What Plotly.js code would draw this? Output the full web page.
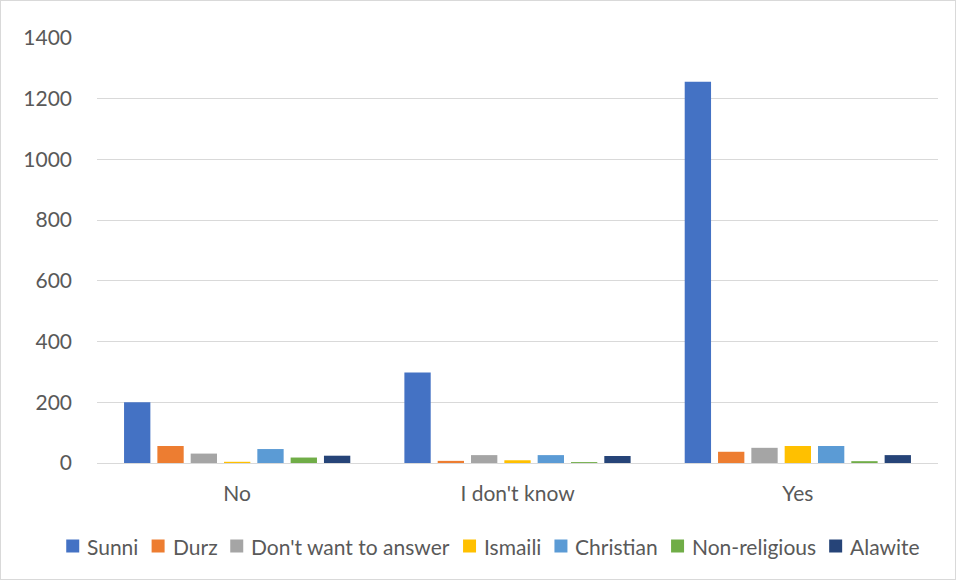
<!DOCTYPE html>
<html>
<head>
<meta charset="utf-8">
<script src="https://cdn.plot.ly/plotly-3.0.1.min.js"></script>
<style>
  html, body { margin: 0; padding: 0; background: #ffffff; }
  #frame { width: 954px; height: 578px; border: 1px solid #d9d9d9; }
  #chart { width: 954px; height: 578px; }
</style>
</head>
<body>
<div id="frame"><div id="chart"></div></div>
<script>
// Survey answers grouped by response, one series per religious group
const answers = ["No", "I don't know", "Yes"];
const sunni = [200, 298, 1256];
const durz = [56, 7, 37];
const dontWantToAnswer = [31, 26, 50];
const ismaili = [4, 9, 56];
const christian = [46, 26, 56];
const nonReligious = [18, 3, 6];
const alawite = [24, 23, 26];

const seriesNames = ["Sunni", "Durz", "Don't want to answer", "Ismaili", "Christian", "Non-religious", "Alawite"];
const seriesValues = [sunni, durz, dontWantToAnswer, ismaili, christian, nonReligious, alawite];
const seriesColors = ["#4472c4", "#ed7d31", "#a5a5a5", "#ffc000", "#5b9bd5", "#70ad47", "#264478"];

const yTicks = [0, 200, 400, 600, 800, 1000, 1200, 1400];

const fontFamily = "Lato, 'Open Sans', 'Liberation Sans', sans-serif";
const textColor = "#595959";

// Figure geometry (pixels)
const W = 954, H = 578;
const M = { l: 96, r: 17, t: 37, b: 116 };
const plotW = W - M.l - M.r;
const plotH = H - M.t - M.b;

// Single-row legend under the axis: square swatch, label, repeated
const legendFontSize = 21;
const swatch = 13, swatchGap = 6, itemGap = 15;
const legendCenterX = 491, legendCenterY = 545;

function buildLegend() {
  const ctx = document.createElement("canvas").getContext("2d");
  ctx.font = legendFontSize + "px Lato";
  const widths = seriesNames.map(n => ctx.measureText(n).width);
  const total = widths.reduce((s, w) => s + w, 0) +
    seriesNames.length * (swatch + swatchGap) + (seriesNames.length - 1) * itemGap;
  let x = legendCenterX - total / 2;
  const toPx = px => (px - M.l) / plotW;
  const toPy = py => (H - M.b - py) / plotH;
  const shapes = [], annotations = [];
  seriesNames.forEach((name, i) => {
    shapes.push({
      type: "rect", xref: "paper", yref: "paper", layer: "above",
      x0: toPx(x), x1: toPx(x + swatch),
      y0: toPy(legendCenterY + swatch / 2), y1: toPy(legendCenterY - swatch / 2),
      fillcolor: seriesColors[i], line: { width: 0 }
    });
    x += swatch + swatchGap;
    annotations.push({
      xref: "paper", yref: "paper", x: toPx(x), y: toPy(legendCenterY),
      xanchor: "left", yanchor: "middle", showarrow: false, text: name,
      font: { family: fontFamily, size: legendFontSize, color: textColor }
    });
    x += widths[i] + itemGap;
  });
  return { shapes, annotations };
}

const traces = seriesNames.map((name, i) => ({
  type: "bar",
  name: name,
  x: answers,
  y: seriesValues[i],
  marker: { color: seriesColors[i], line: { width: 0 } },
  hoverinfo: "x+y+name"
}));

function draw() {
  const legend = buildLegend();
  const layout = {
    width: W,
    height: H,
    paper_bgcolor: "#ffffff",
    plot_bgcolor: "#ffffff",
    margin: { l: M.l, r: M.r, t: M.t, b: M.b, autoexpand: false },
    barmode: "group",
    bargap: 0.168,
    bargroupgap: 0.21,
    font: { family: fontFamily, size: 21, color: textColor },
    xaxis: {
      type: "category",
      showgrid: false,
      showline: true,
      linecolor: "#d9d9d9",
      linewidth: 1,
      ticks: "",
      ticklabelstandoff: 12,
      tickfont: { family: fontFamily, size: 21, color: textColor },
      zeroline: false,
      fixedrange: true
    },
    yaxis: {
      range: [0, 1400],
      tickvals: yTicks,
      ticktext: yTicks.map(String),
      showgrid: true,
      gridcolor: "#d9d9d9",
      gridwidth: 1,
      zeroline: false,
      showline: false,
      ticks: "",
      ticklabelstandoff: 24,
      tickfont: { family: fontFamily, size: 21, color: textColor },
      fixedrange: true
    },
    showlegend: false,
    shapes: legend.shapes,
    annotations: legend.annotations
  };
  Plotly.newPlot("chart", traces, layout, { displayModeBar: false, staticPlot: true });
}

if (document.fonts && document.fonts.load) {
  document.fonts.load(legendFontSize + "px Lato").then(draw, draw);
} else {
  draw();
}
</script>
</body>
</html>
